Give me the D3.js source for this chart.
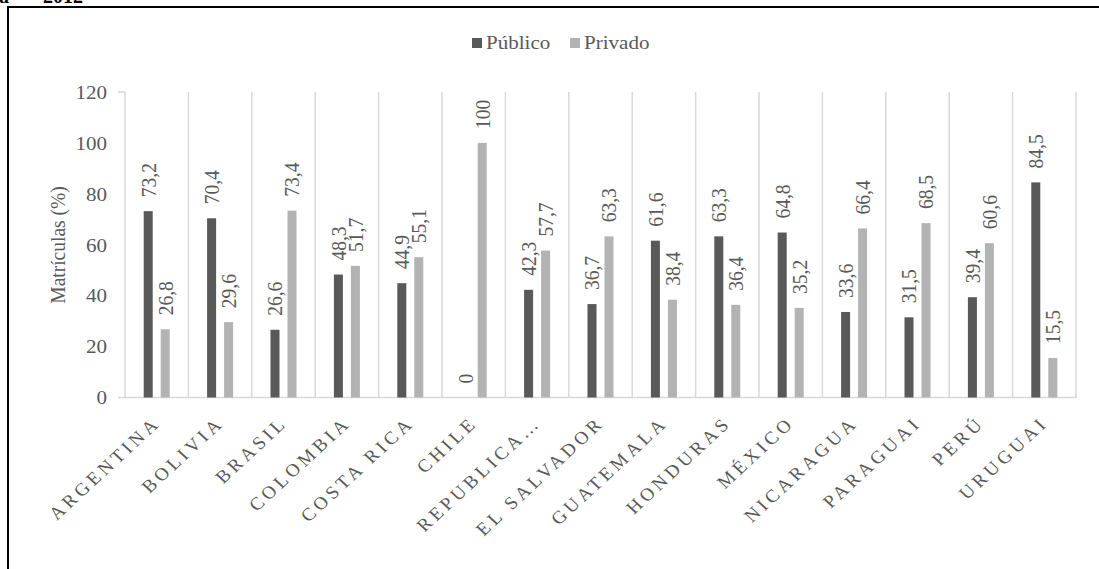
<!DOCTYPE html>
<html>
<head>
<meta charset="utf-8">
<script src="https://cdn.jsdelivr.net/npm/d3@7"></script>
<style>
  html, body { margin: 0; padding: 0; background: #fff; }
  svg { display: block; }
</style>
</head>
<body>
<svg id="chart" width="1099" height="569"></svg>
<script>
// Matrículas por país, sector público vs. privado (%)
const categories = ["ARGENTINA", "BOLIVIA", "BRASIL", "COLOMBIA", "COSTA RICA", "CHILE",
  "REPUBLICA…", "EL SALVADOR", "GUATEMALA", "HONDURAS", "MÉXICO", "NICARAGUA",
  "PARAGUAI", "PERÚ", "URUGUAI"];
const seriesNames = ["Público", "Privado"];
const publico = [73.2, 70.4, 26.6, 48.3, 44.9, 0, 42.3, 36.7, 61.6, 63.3, 64.8, 33.6, 31.5, 39.4, 84.5];
const privado = [26.8, 29.6, 73.4, 51.7, 55.1, 100, 57.7, 63.3, 38.4, 36.4, 35.2, 66.4, 68.5, 60.6, 15.5];
const yTicks = [0, 20, 40, 60, 80, 100, 120];
const yTitle = "Matrículas (%)";

const FONT = "'Liberation Serif', 'Times New Roman', Times, serif";
const colors = { "Público": "#595959", "Privado": "#b3b3b3" };
const textColor = "#595959";
const gridColor = "#d9d9d9";
const sx = 1.08; // glyphs are slightly wide in this layout

const svg = d3.select("#chart")
  .attr("font-family", FONT);
svg.append("rect").attr("width", 1099).attr("height", 569).attr("fill", "#fff");

function label(sel) {
  return sel.attr("font-family", FONT).attr("fill", textColor);
}

// caption fragment above the frame
svg.append("text").attr("x", -1).attr("y", 3)
  .attr("font-family", FONT).attr("font-weight", "bold").attr("font-size", 20).attr("fill", "#000")
  .text("a");
svg.append("text").attr("x", 43).attr("y", 3)
  .attr("font-family", FONT).attr("font-weight", "bold").attr("font-size", 20).attr("fill", "#000")
  .text("2012");

// outer frame
svg.append("rect").attr("x", 8).attr("y", 7).attr("width", 1200).attr("height", 700)
  .attr("fill", "none").attr("stroke", "#000").attr("stroke-width", 2);

const x = d3.scaleBand().domain(categories).range([125, 1076]).padding(0);
const inner = d3.scaleBand().domain(seriesNames).range([0, x.bandwidth()])
  .paddingInner(0.47).paddingOuter(1.1);
const y = d3.scaleLinear().domain([0, 120]).range([397.5, 92]);

const data = categories.map((c, i) => ({ cat: c, values: [
  { key: "Público", value: publico[i] },
  { key: "Privado", value: privado[i] }
]}));

// vertical gridlines between categories
const gx = categories.map(c => x(c)).concat([x.range()[1]]);
svg.append("g").selectAll("line").data(gx).join("line")
  .attr("x1", d => d).attr("x2", d => d)
  .attr("y1", y(120)).attr("y2", y(0))
  .attr("stroke", gridColor).attr("stroke-width", 1.5);

// small top tick and baseline
svg.append("line").attr("x1", 118).attr("x2", 125).attr("y1", y(120)).attr("y2", y(120))
  .attr("stroke", gridColor).attr("stroke-width", 1.5);
svg.append("line").attr("x1", 118).attr("x2", x.range()[1] + 0.75).attr("y1", y(0)).attr("y2", y(0))
  .attr("stroke", gridColor).attr("stroke-width", 1.5);

// y tick labels
svg.append("g").selectAll("text").data(yTicks).join("text")
  .call(label)
  .attr("transform", d => `translate(107,${y(d)}) scale(${sx},1)`)
  .attr("text-anchor", "end").attr("dy", "0.35em")
  .attr("font-size", 19.5)
  .text(d => d);

// y axis title
svg.append("text")
  .call(label)
  .attr("transform", `translate(58,245) scale(${sx},1) rotate(-90)`)
  .attr("text-anchor", "middle").attr("dy", "0.35em")
  .attr("font-size", 19.5)
  .text(yTitle);

// bars
const groups = svg.append("g").selectAll("g").data(data).join("g")
  .attr("transform", d => `translate(${x(d.cat)},0)`);
groups.selectAll("rect").data(d => d.values).join("rect")
  .attr("x", d => inner(d.key))
  .attr("width", inner.bandwidth())
  .attr("y", d => y(d.value))
  .attr("height", d => y(0) - y(d.value))
  .attr("fill", d => colors[d.key]);

// value labels
const fmt = v => String(v).replace(".", ",");
groups.selectAll("text").data(d => d.values).join("text")
  .call(label)
  .attr("transform", d => `translate(${inner(d.key) + inner.bandwidth() / 2},${y(d.value) - 14}) scale(${sx},1) rotate(-90)`)
  .attr("text-anchor", "start").attr("dy", "0.35em")
  .attr("font-size", 19.5)
  .text(d => fmt(d.value));

// category labels
svg.append("g").selectAll("text").data(categories).join("text")
  .call(label)
  .attr("transform", d => `translate(${x(d) + x.bandwidth() / 2 + 5},424) scale(${sx},1) rotate(-45)`)
  .attr("text-anchor", "end")
  .attr("font-size", 18).attr("letter-spacing", 3.6)
  .text(d => d);

// legend
const legend = svg.append("g");
const legendItems = [{ key: "Público", x: 472 }, { key: "Privado", x: 570 }];
legendItems.forEach(it => {
  legend.append("rect").attr("x", it.x).attr("y", 38).attr("width", 10).attr("height", 10)
    .attr("fill", colors[it.key]);
  legend.append("text").call(label)
    .attr("transform", `translate(${it.x + 14},49) scale(${sx},1)`)
    .attr("font-size", 19.5).text(it.key);
});
</script>
</body>
</html>
